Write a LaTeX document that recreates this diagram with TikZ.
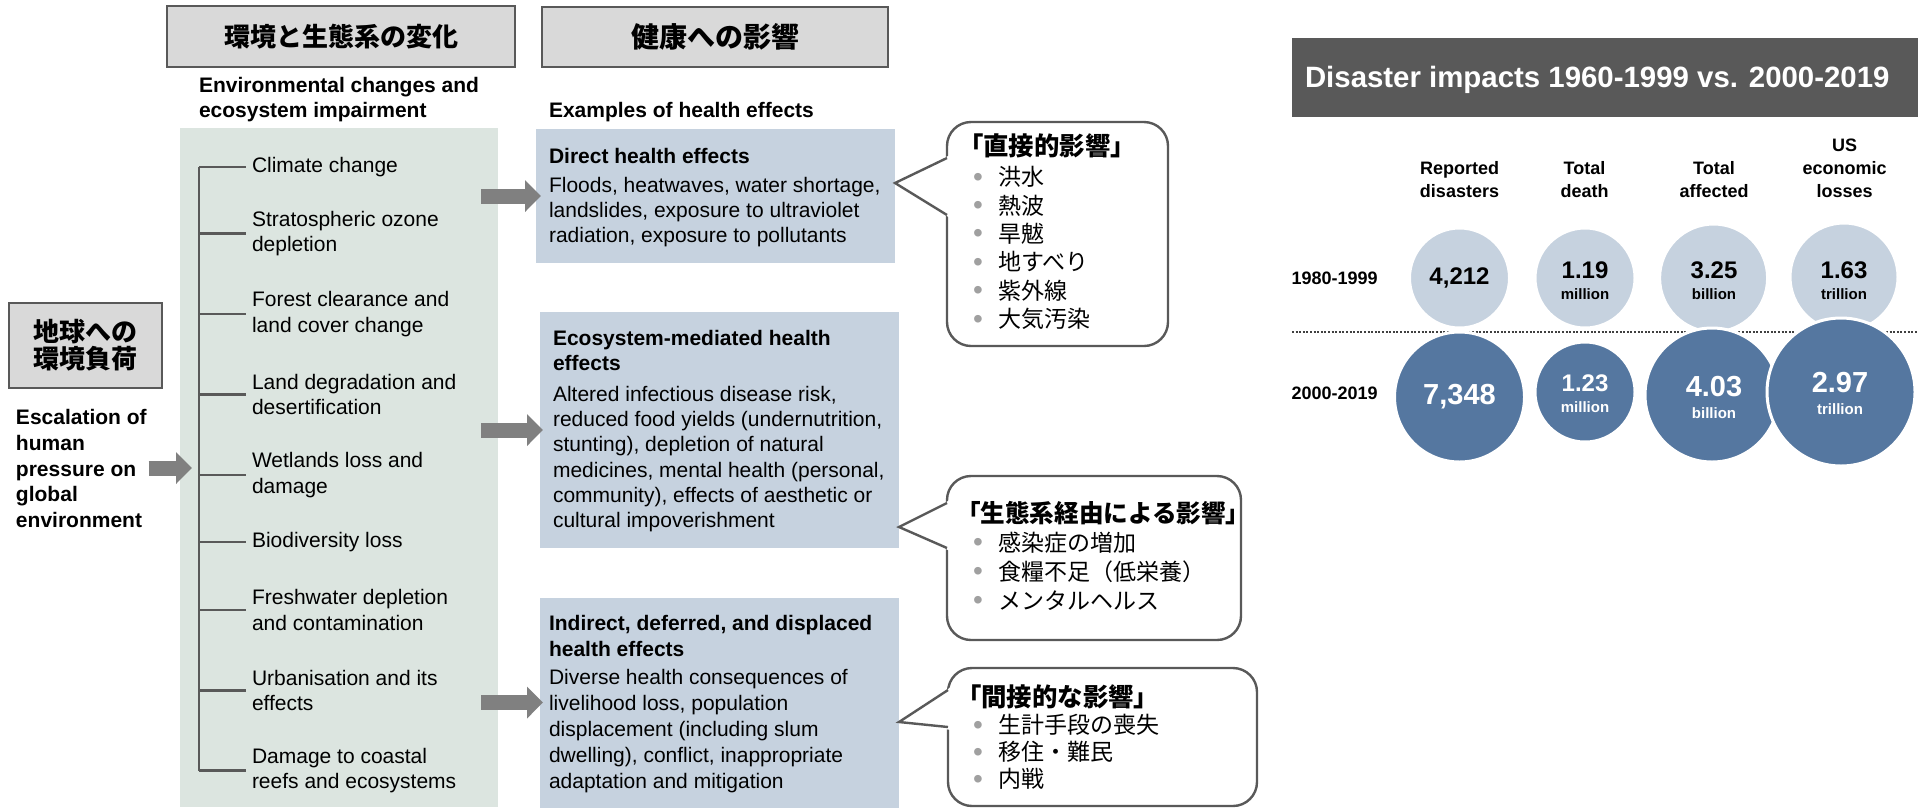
\documentclass[tikz,border=0pt]{standalone}
\usepackage{fontspec}
\setmainfont{Liberation Sans}
\newfontfamily\jp{Noto Sans CJK JP}
\usetikzlibrary{arrows.meta}

\definecolor{boxgray}{HTML}{D9D9D9}
\definecolor{edgegray}{HTML}{595959}
\definecolor{panelgreen}{HTML}{DCE5E0}
\definecolor{paleblue}{HTML}{C6D2DF}
\definecolor{deepblue}{HTML}{5577A0}
\definecolor{arrowgray}{HTML}{808080}
\definecolor{dotgray}{HTML}{A0A0A0}
\definecolor{titlegray}{HTML}{595959}
\definecolor{rulegray}{HTML}{404040}

% bullet item for the Japanese lists
\newcommand\itm[1]{\makebox[12.5pt][l]{\textcolor{dotgray}{\rmfamily\fontsize{14}{14}\selectfont\raisebox{-0.02em}{\textbullet}}}#1}

\begin{document}
\begin{tikzpicture}[x=0.5pt, y=-0.5pt,
  every node/.style={inner sep=0pt, outer sep=0pt},
  hdrbox/.style={draw=edgegray, line width=1.25pt, fill=boxgray},
  txtbody/.style={anchor=west, align=left, font=\fontsize{10.5}{12.6}\selectfont},
  txtbold/.style={anchor=west, align=left, font=\bfseries\fontsize{10.5}{12.6}\selectfont},
  treeline/.style={draw=edgegray, line width=1.3pt},
  fatarrow/.style={draw=arrowgray, line width=7.5pt, -{Triangle[length=8pt, width=15.5pt]}},
  calloutbox/.style={draw=edgegray, line width=1.2pt, fill=white, rounded corners=12pt},
  pointer/.style={draw=edgegray, line width=1.2pt, line join=miter},
  jptitle/.style={anchor=west, font=\jp\bfseries\fontsize{12.7}{15}\selectfont},
  jplist/.style={anchor=west, align=left, font=\jp\fontsize{11.5}{14.2}\selectfont},
  colhead/.style={align=center, font=\bfseries\fontsize{9}{11.5}\selectfont},
  rowhead/.style={anchor=west, font=\bfseries\fontsize{9}{11}\selectfont},
  lightdisc/.style={circle, fill=paleblue, draw=white, line width=1.5pt},
  darkdisc/.style={circle, fill=deepblue, draw=white, line width=1.5pt},
  bignum/.style={font=\bfseries\fontsize{12}{14}\selectfont},
  hugenum/.style={font=\bfseries\fontsize{14.5}{17}\selectfont, text=white},
  unit/.style={font=\bfseries\fontsize{7.5}{9}\selectfont}
]
\useasboundingbox (0,0) rectangle (1927,810);
\fill[white] (0,0) rectangle (1927,810);

% ---------- column headers ----------
\node[hdrbox, minimum width=174pt, minimum height=30.5pt,
      font=\jp\bfseries\fontsize{13}{16}\selectfont] (h1) at (341,36.5) {環境と生態系の変化};
\node[hdrbox, minimum width=173pt, minimum height=30pt,
      font=\jp\bfseries\fontsize{14}{17}\selectfont] (h2) at (715,37) {健康への影響};

\node[txtbold] (envlbl) at (199,99.5) {Environmental changes and\\ecosystem impairment};
\node[txtbold] (exlbl) at (549,112) {Examples of health effects};

% ---------- environmental changes panel ----------
\node[fill=panelgreen, minimum width=159pt, minimum height=339.5pt] (panel) at (339,467.5) {};

\node[txtbody] (i1) at (252,167) {Climate change};
\node[txtbody] (i2) at (252,233.5) {Stratospheric ozone\\depletion};
\node[txtbody] (i3) at (252,314) {Forest clearance and\\land cover change};
\node[txtbody] (i4) at (252,394.5) {Land degradation and\\desertification};
\node[txtbody] (i5) at (252,475) {Wetlands loss and\\damage};
\node[txtbody] (i6) at (252,542) {Biodiversity loss};
\node[txtbody] (i7) at (252,610) {Freshwater depletion\\and contamination};
\node[txtbody] (i8) at (252,690.5) {Urbanisation and its\\effects};
\node[txtbody] (i9) at (252,770.5) {Damage to coastal\\reefs and ecosystems};

\coordinate (trunk) at (199,167);
\draw[treeline] (trunk |- i1.west) -- (trunk |- i9.west);
\foreach \i in {i1,i2,i3,i4,i5,i6,i7,i8,i9}
  \draw[treeline] (trunk |- \i.west) -- ([xshift=-3pt]\i.west);

% ---------- human pressure ----------
\node[hdrbox, minimum width=76.5pt, minimum height=42.5pt, align=center,
      font=\jp\bfseries\fontsize{13}{13.5}\selectfont] (load) at (85.5,345.5) {地球への\\環境負荷};
\node[anchor=west, align=left, font=\bfseries\fontsize{10.5}{12.9}\selectfont] (esc) at (16,468.5)
  {Escalation of\\human\\pressure on\\global\\environment};
\coordinate (pin) at (192,468);
\draw[fatarrow] ([xshift=1pt]esc.east |- pin) -- (pin);

% ---------- health effect boxes ----------
\node[fill=paleblue, minimum width=179.5pt, minimum height=67pt] (b1) at (715.5,196) {};
\node[fill=paleblue, minimum width=179.5pt, minimum height=118pt] (b2) at (719.5,430) {};
\node[fill=paleblue, minimum width=179.5pt, minimum height=105pt] (b3) at (719.5,702.5) {};

\node[txtbold] (b1t) at (549,156) {Direct health effects};
\node[txtbody] (b1x) at (549,212) {Floods, heatwaves, water shortage,\\landslides, exposure to ultraviolet\\radiation, exposure to pollutants};

\node[txtbold] (b2t) at (553,350.5) {Ecosystem-mediated health\\effects};
\node[txtbody] (b2x) at (553,459) {Altered infectious disease risk,\\reduced food yields (undernutrition,\\stunting), depletion of natural\\medicines, mental health (personal,\\community), effects of aesthetic or\\cultural impoverishment};

\node[txtbold] (b3t) at (549,636) {Indirect, deferred, and displaced\\health effects};
\node[txtbody, font=\fontsize{10.5}{13}\selectfont] (b3x) at (549,731) {Diverse health consequences of\\livelihood loss, population\\displacement (including slum\\dwelling), conflict, inappropriate\\adaptation and mitigation};

\draw[fatarrow] ([xshift=-27.5pt]b1.west) -- ([xshift=2.5pt]b1.west);
\draw[fatarrow] ([xshift=-29.5pt]b2.west) -- ([xshift=1.5pt]b2.west);
\draw[fatarrow] ([xshift=-29.5pt]b3.west) -- ([xshift=1.5pt]b3.west);

% ---------- speech callouts ----------
\node[calloutbox, minimum width=110.5pt, minimum height=112pt] (k1) at (1057.5,234) {};
\coordinate (k1a) at (947,158);
\coordinate (k1b) at (947,215);
\coordinate (k1tip) at (b1.east |- 0,183);
\fill[white] ([shift={(1.5pt,1.5pt)}]k1a) -- (k1tip) -- ([shift={(1.5pt,-1.5pt)}]k1b) -- cycle;
\draw[pointer] (k1a) -- (k1tip) -- (k1b);
\node[jptitle] (k1t) at (958,146) {「直接的影響」};
\node[jplist] (k1l) at (973,248) {\itm{洪水}\\\itm{熱波}\\\itm{旱魃}\\\itm{地すべり}\\\itm{紫外線}\\\itm{大気汚染}};

\node[calloutbox, minimum width=147pt, minimum height=82pt] (k2) at (1094,558) {};
\coordinate (k2a) at (947,503);
\coordinate (k2b) at (947,548);
\coordinate (k2tip) at (b2.east |- 0,527);
\fill[white] ([shift={(1.5pt,1.5pt)}]k2a) -- (k2tip) -- ([shift={(1.5pt,-1.5pt)}]k2b) -- cycle;
\draw[pointer] (k2a) -- (k2tip) -- (k2b);
\node[jptitle, font=\jp\bfseries\fontsize{12.3}{15}\selectfont] (k2t) at (956,513) {「生態系経由による影響」};
\node[jplist, font=\jp\fontsize{11.5}{14.5}\selectfont] (k2l) at (973,571) {\itm{感染症の増加}\\\itm{食糧不足（低栄養）}\\\itm{メンタルヘルス}};

\node[calloutbox, minimum width=154.5pt, minimum height=69pt] (k3) at (1102.5,737) {};
\coordinate (k3a) at (948,690);
\coordinate (k3b) at (948,727);
\coordinate (k3tip) at (b3.east |- 0,722);
\fill[white] ([shift={(1.5pt,1.5pt)}]k3a) -- (k3tip) -- ([shift={(1.5pt,-1.5pt)}]k3b) -- cycle;
\draw[pointer] (k3a) -- (k3tip) -- (k3b);
\node[jptitle] (k3t) at (956,697) {「間接的な影響」};
\node[jplist, font=\jp\fontsize{11.5}{13.5}\selectfont] (k3l) at (973,752) {\itm{生計手段の喪失}\\\itm{移住・難民}\\\itm{内戦}};

% ---------- disaster impacts ----------
\node[fill=titlegray, minimum width=313pt, minimum height=39.5pt] (rt) at (1605,77.5) {};
\node[anchor=west, text=white, font=\bfseries\fontsize{14.7}{17}\selectfont] (rtt) at (1305,80)
  {Disaster impacts 1960-1999 vs. 2000-2019};

\node[colhead] (q1) at (1459.5,179.5) {Reported\\disasters};
\node[colhead] (q2) at (1584.5,179.5) {Total\\death};
\node[colhead] (q3) at (1714,179.5) {Total\\affected};
\node[colhead] (q4) at (1844.5,168) {US\\economic\\losses};

\node[rowhead] (r1) at (1291.5,278) {1980-1999};
\node[rowhead] (r2) at (1291.5,393) {2000-2019};

\node[lightdisc, minimum size=50pt] (c1) at (1459.5,278) {};
\node[lightdisc, minimum size=50pt] (c2) at (1585,278) {};
\node[lightdisc, minimum size=54pt] (c3) at (1713.6,278) {};
\node[lightdisc, minimum size=54pt] (c4) at (1844,277) {};

\draw[rulegray, line width=1pt, dash pattern=on 1pt off 0.8pt] (1292,332) -- (1918,332);

\node[darkdisc, minimum size=65pt] (d1) at (1459.5,397) {};
\node[darkdisc, minimum size=50pt] (d2) at (1585,392) {};
\node[darkdisc, minimum size=67pt] (d3) at (1712,395) {};
\node[darkdisc, minimum size=74pt] (d4) at (1841,392) {};

\node[bignum] (n1) at (1459.5,278) {4,212};
\node[bignum] (n2) at (1585,270) {1.19};
\node[unit] (u2) at (1585,294) {million};
\node[bignum] (n3) at (1714,270) {3.25};
\node[unit] (u3) at (1714,294) {billion};
\node[bignum] (n4) at (1844,270) {1.63};
\node[unit] (u4) at (1844,294) {trillion};

\node[hugenum] (m1) at (1459.5,397) {7,348};
\node[bignum, text=white] (m2) at (1585,383) {1.23};
\node[unit, text=white] (v2) at (1585,407) {million};
\node[hugenum] (m3) at (1714,387) {4.03};
\node[unit, text=white] (v3) at (1714,413) {billion};
\node[hugenum] (m4) at (1840,383) {2.97};
\node[unit, text=white] (v4) at (1840,409) {trillion};
\end{tikzpicture}
\end{document}
